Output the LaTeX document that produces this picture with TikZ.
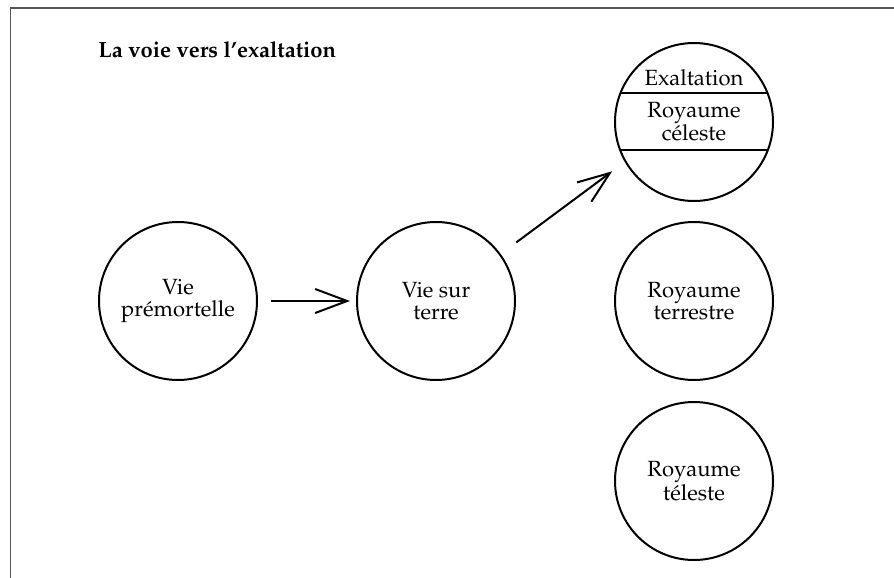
\documentclass[tikz,border=0pt]{standalone}
\usepackage[T1]{fontenc}
\usepackage{mathpazo}
\usetikzlibrary{arrows.meta}
\definecolor{framegray}{HTML}{555555}
\tikzset{
  realm/.style={circle, draw, line width=1pt, minimum size=79pt, inner sep=0pt, align=center, font=\fontsize{11}{11}\selectfont},
  txt/.style={inner sep=0pt, anchor=base, align=center, font=\fontsize{11}{11}\selectfont},
  conn/.style={line width=1pt, -{Straight Barb[length=16pt,width=12pt,line width=1pt]}},
  frameline/.style={draw=framegray}
}
\begin{document}
\begin{tikzpicture}[x=0.5pt,y=-0.5pt]
\useasboundingbox (0,0) rectangle (894,578);
\coordinate (fl) at (10,8);
\coordinate (fr) at (894,8);
\coordinate (fb) at (10,578);
\draw[frameline, line width=1pt] (fl) -- (fr);
\draw[frameline, line width=0.5pt] (fl) -- (fb);
\node[inner sep=0pt, anchor=base west, font=\fontsize{11}{11}\selectfont\bfseries] (title) at (98,57) {La voie vers l'exaltation};
\node[realm] (pre) at (178,301) {Vie\\prémortelle};
\node[realm] (terre) at (436,301) {Vie sur\\terre};
\node[realm, path picture={
  \draw[line width=1pt] ([yshift=14.5pt]path picture bounding box.west) -- ([yshift=14.5pt]path picture bounding box.east);
  \draw[line width=1pt] ([yshift=-14pt]path picture bounding box.west) -- ([yshift=-14pt]path picture bounding box.east);
}] (cel) at (694,122) {};
\node[txt] (exa) at (694,85) {Exaltation};
\node[txt] (roy) at (694,117) {Royaume};
\node[txt] (cele) at (694,140) {céleste};
\node[realm] (terr) at (694,301) {Royaume\\terrestre};
\node[realm] (tel) at (694,481) {Royaume\\téleste};
\draw[conn, shorten <=6.5pt, shorten >=3pt] (pre) -- (terre);
\draw[conn, shorten <=9.7pt, shorten >=7.8pt] (terre.36) -- (cel.210);
\end{tikzpicture}
\end{document}
